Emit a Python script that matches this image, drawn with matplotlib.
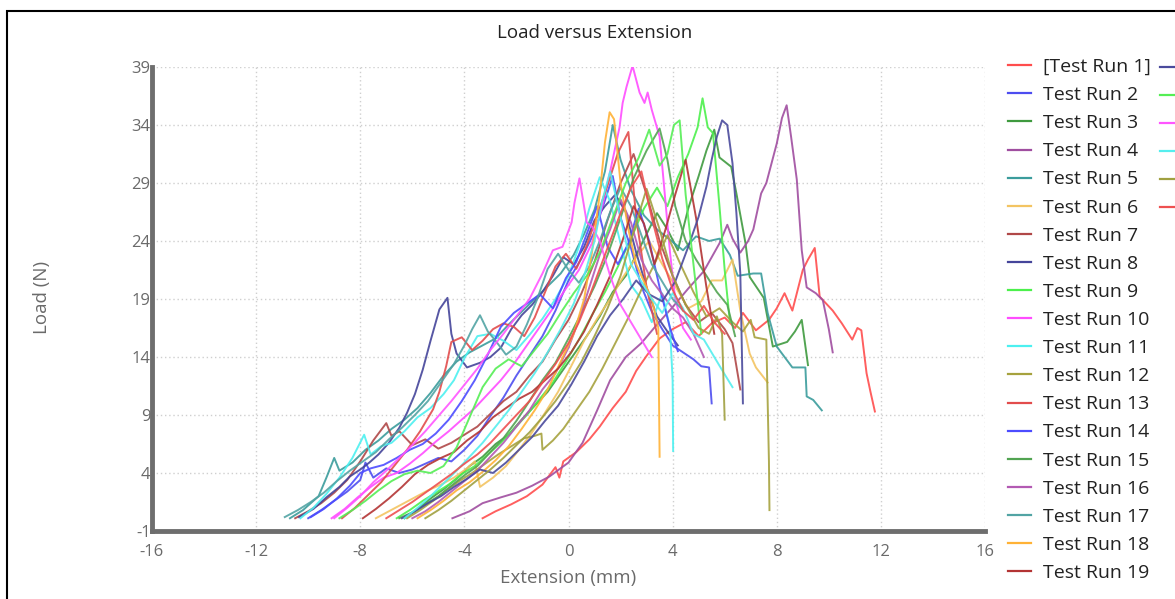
import matplotlib
matplotlib.use("Agg")
import matplotlib.pyplot as plt
from matplotlib.lines import Line2D
from matplotlib.patches import Rectangle

plt.rcParams['font.family'] = ['Open Sans', 'DejaVu Sans']
plt.rcParams['axes.unicode_minus'] = False

# ---------------- data ----------------
run01_x = [-3.3, -2.8, -2.2, -1.6, -1.0, -0.5, -0.35, -0.2, 0.3, 0.8, 1.2, 1.7, 2.2, 2.6, 3.0, 3.5, 4.0, 4.5, 5.0, 5.5, 6.0, 6.4, 6.7, 7.2, 7.7, 8.0, 8.3, 8.6, 9.0, 9.2, 9.46, 9.65, 10.15, 10.5, 10.9, 11.1, 11.25, 11.45, 11.6, 11.77]
run01_y = [0.1, 0.7, 1.3, 2.0, 3.0, 4.5, 3.6, 5.0, 5.8, 6.9, 8.0, 9.6, 11.0, 12.8, 14.1, 15.6, 16.4, 17.0, 15.8, 16.9, 17.4, 16.5, 17.8, 16.3, 17.2, 18.2, 19.5, 18.0, 21.5, 22.4, 23.4, 19.2, 18.0, 16.9, 15.5, 16.5, 16.3, 12.6, 11.0, 9.3]

run02_x = [-10.0, -9.5, -9.0, -8.5, -8.0, -7.8, -7.5, -7.0, -6.5, -6.0, -5.5, -5.0, -4.5, -4.0, -3.5, -3.0, -2.5, -2.0, -1.5, -1.0, -0.5, 0.0, 0.5, 1.0, 1.4, 1.7, 2.0, 2.4, 2.8, 3.2, 3.6, 4.0, 4.4, 4.8, 5.1, 5.4, 5.5]
run02_y = [0.1, 0.8, 1.6, 2.4, 3.4, 4.9, 3.6, 4.4, 4.0, 4.3, 4.8, 5.3, 5.0, 6.0, 7.2, 8.9, 10.5, 12.4, 14.1, 15.8, 18.0, 20.6, 22.5, 24.8, 27.5, 29.6, 26.0, 23.4, 20.1, 17.9, 16.4, 15.0, 14.4, 13.8, 13.2, 13.1, 10.0]

run03_x = [-6.3, -5.8, -5.3, -4.8, -4.3, -3.8, -3.3, -2.8, -2.3, -1.8, -1.3, -0.8, -0.3, 0.2, 0.7, 1.2, 1.7, 2.2, 2.6, 3.0, 3.4, 3.8, 4.2, 4.6, 5.0, 5.3, 5.6, 5.8, 6.25, 6.45, 6.8, 6.96, 7.5, 7.85, 8.4, 8.7, 8.96, 9.2]
run03_y = [0.1, 0.9, 1.8, 2.6, 3.5, 4.6, 5.4, 6.5, 7.3, 8.6, 9.8, 11.0, 12.6, 14.2, 15.8, 17.5, 19.6, 21.0, 22.8, 24.6, 26.4, 25.0, 23.2, 26.8, 29.6, 31.8, 33.6, 31.2, 30.4, 28.1, 23.8, 20.9, 19.1, 14.9, 15.3, 16.2, 17.2, 13.3]

run04_x = [-4.46, -3.8, -3.3, -2.6, -2.0, -1.4, -0.73, 0.0, 0.54, 1.1, 1.6, 2.2, 2.8, 3.4, 4.0, 4.6, 5.2, 5.5, 5.8, 6.1, 6.3, 6.6, 6.9, 7.1, 7.4, 7.6, 8.0, 8.2, 8.38, 8.55, 8.77, 8.96, 9.15, 9.5, 9.77, 10.0, 10.15]
run04_y = [0.1, 0.7, 1.4, 1.9, 2.3, 2.9, 3.7, 4.9, 6.6, 9.4, 12.0, 14.0, 15.2, 16.8, 18.3, 19.9, 21.4, 22.6, 23.8, 25.4, 24.2, 23.0, 24.0, 25.0, 28.1, 29.0, 32.4, 34.6, 35.7, 33.0, 29.3, 23.2, 20.0, 19.5, 18.9, 16.4, 14.4]

run05_x = [-10.7, -10.2, -9.6, -9.3, -9.0, -8.8, -8.3, -7.8, -7.3, -6.8, -6.3, -5.8, -5.3, -4.8, -4.3, -3.8, -3.3, -2.8, -2.3, -1.8, -1.3, -0.8, -0.3, 0.2, 0.6, 1.0, 1.4, 1.7, 2.0, 2.4, 2.9, 3.4, 3.9, 4.4, 4.9, 5.4, 5.8, 6.2, 6.5, 7.1, 7.4, 7.65, 8.0, 8.6, 9.1, 9.15, 9.4, 9.73]
run05_y = [0.1, 0.8, 2.0, 3.6, 5.3, 4.2, 4.9, 6.0, 6.8, 7.8, 8.6, 9.6, 10.9, 12.4, 13.6, 14.4, 15.0, 15.6, 16.8, 17.9, 19.0, 20.1, 21.2, 22.8, 24.6, 26.7, 30.0, 34.0, 31.0, 28.4, 26.2, 25.0, 24.1, 23.2, 24.4, 24.0, 24.2, 22.8, 21.0, 21.2, 21.2, 17.8, 14.9, 13.1, 13.1, 10.6, 10.3, 9.4]

run06_x = [-7.4, -6.9, -6.4, -5.9, -5.4, -4.9, -4.4, -3.9, -3.6, -3.4, -2.9, -2.4, -1.9, -1.4, -0.9, -0.4, 0.1, 0.6, 1.1, 1.6, 2.1, 2.6, 3.1, 3.6, 4.1, 4.6, 5.1, 5.5, 5.9, 6.3, 6.6, 6.96, 7.2, 7.65]
run06_y = [0.1, 0.7, 1.3, 1.9, 2.5, 3.0, 3.6, 4.4, 5.0, 2.8, 3.6, 4.6, 6.0, 7.5, 9.2, 11.0, 13.2, 15.4, 17.3, 19.0, 20.9, 22.6, 24.0, 22.0, 20.1, 18.2, 18.8, 20.6, 20.6, 22.4, 18.0, 14.3, 13.1, 11.8]

run07_x = [-10.5, -10.0, -9.5, -9.0, -8.5, -8.0, -7.5, -7.0, -6.8, -6.5, -6.0, -5.5, -5.0, -4.5, -4.0, -3.5, -3.0, -2.5, -2.0, -1.5, -1.0, -0.5, 0.0, 0.5, 1.0, 1.5, 2.0, 2.5, 3.0, 3.5, 4.0, 4.5, 5.0, 5.5, 6.0, 6.3, 6.6]
run07_y = [0.1, 0.7, 1.4, 2.3, 3.4, 5.0, 6.8, 8.3, 7.2, 7.6, 6.4, 6.9, 6.1, 6.6, 7.3, 8.0, 9.1, 10.2, 11.0, 12.4, 13.6, 15.5, 17.2, 19.5, 22.2, 25.8, 29.0, 31.5, 28.0, 24.0, 21.0, 18.5, 17.0, 17.8, 16.4, 15.2, 11.2]

run08_x = [-10.35, -9.8, -9.3, -8.8, -8.4, -8.0, -7.65, -7.3, -6.9, -6.5, -6.2, -5.9, -5.6, -5.3, -4.96, -4.65, -4.5, -4.3, -3.9, -3.4, -3.0, -2.6, -2.2, -1.8, -1.4, -1.0, -0.6, -0.2, 0.2, 0.6, 1.0, 1.4, 1.8, 2.2, 2.6, 3.0, 3.4, 3.8, 4.2]
run08_y = [0.2, 0.9, 1.9, 2.8, 3.7, 4.3, 4.9, 5.6, 6.6, 7.9, 9.2, 10.8, 12.9, 15.4, 18.1, 19.1, 16.0, 14.3, 13.1, 13.5, 14.0, 14.8, 16.4, 17.6, 18.5, 19.6, 21.0, 22.6, 22.0, 23.5, 25.8, 27.0, 28.0, 26.5, 23.0, 20.0, 17.5, 16.2, 15.0]

run09_x = [-6.6, -6.1, -5.6, -5.1, -4.6, -4.1, -3.6, -3.1, -2.6, -2.1, -1.6, -1.1, -0.6, -0.1, 0.4, 0.9, 1.4, 1.9, 2.4, 2.9, 3.4, 3.8, 4.2, 4.6, 4.96, 5.15, 5.35, 5.55, 5.8, 6.0, 6.2]
run09_y = [0.1, 0.8, 1.6, 2.3, 3.0, 3.9, 4.6, 5.6, 6.6, 7.8, 9.0, 10.4, 11.8, 13.6, 15.5, 17.6, 19.6, 21.8, 24.2, 26.8, 28.6, 27.0, 29.5, 31.5, 33.8, 36.3, 33.8, 33.3, 27.0, 21.5, 17.0]

run10_x = [-9.1, -8.6, -8.1, -7.6, -7.1, -6.6, -6.1, -5.6, -5.1, -4.6, -4.1, -3.6, -3.1, -2.6, -2.1, -1.6, -1.1, -0.6, -0.1, 0.4, 0.9, 1.3, 1.6, 1.96, 2.08, 2.23, 2.46, 2.73, 2.92, 3.04, 3.2, 3.5, 3.7, 3.9, 4.1, 4.4, 4.7]
run10_y = [0.1, 0.9, 1.9, 2.8, 3.6, 4.0, 4.8, 5.7, 6.7, 7.6, 8.6, 9.6, 10.8, 12.0, 13.4, 15.0, 16.6, 18.2, 19.9, 21.5, 23.8, 27.0, 30.0, 33.8, 35.9, 37.3, 39.1, 36.8, 35.9, 36.8, 35.3, 33.0, 28.0, 23.0, 19.0, 16.5, 15.5]

run11_x = [-10.3, -9.8, -9.3, -8.8, -8.3, -7.85, -7.6, -7.2, -6.8, -6.3, -5.8, -5.3, -4.8, -4.4, -4.0, -3.5, -3.0, -2.5, -2.0, -1.5, -1.0, -0.5, 0.0, 0.4, 0.8, 1.2, 1.6, 2.0, 2.4, 2.8, 3.2, 3.6, 3.9, 4.0, 4.02]
run11_y = [0.1, 1.0, 2.2, 3.6, 5.3, 7.3, 5.6, 6.3, 6.6, 7.6, 8.8, 9.6, 10.8, 12.0, 13.9, 15.8, 16.0, 15.4, 14.6, 15.9, 17.3, 19.0, 21.0, 23.5, 26.8, 29.5, 27.4, 23.8, 20.2, 19.0, 17.0, 19.5, 16.5, 12.0, 5.9]

run12_x = [-6.2, -5.7, -5.2, -4.7, -4.2, -3.7, -3.2, -2.7, -2.2, -1.7, -1.3, -1.04, -1.0, -0.6, -0.2, 0.3, 0.8, 1.3, 1.8, 2.3, 2.8, 3.3, 3.8, 4.3, 4.8, 5.3, 5.8, 6.3, 6.7, 7.0, 7.15, 7.6, 7.7, 7.72]
run12_y = [0.1, 0.8, 1.6, 2.5, 3.3, 4.0, 4.8, 5.6, 6.3, 7.0, 7.2, 7.4, 6.0, 6.8, 7.8, 9.4, 11.0, 13.0, 15.2, 17.4, 19.8, 22.0, 24.5, 22.0, 19.6, 17.5, 18.2, 17.0, 16.2, 17.2, 15.7, 15.5, 5.0, 0.8]

run13_x = [-8.7, -8.2, -7.7, -7.2, -6.7, -6.2, -5.7, -5.2, -4.96, -4.7, -4.5, -4.1, -3.7, -3.3, -2.9, -2.5, -2.1, -1.7, -1.3, -0.9, -0.5, -0.1, 0.3, 0.7, 1.1, 1.5, 1.9, 2.3, 2.6, 3.0, 3.4]
run13_y = [0.1, 1.0, 2.1, 3.2, 4.6, 6.0, 7.6, 9.5, 11.0, 13.2, 15.3, 15.7, 14.6, 15.4, 16.4, 16.9, 16.6, 15.8, 17.4, 19.6, 21.8, 22.9, 21.6, 23.6, 26.2, 28.8, 31.6, 33.4, 26.0, 20.0, 16.0]

run14_x = [-9.9, -9.4, -8.9, -8.4, -8.0, -7.6, -7.1, -6.6, -6.1, -5.6, -5.1, -4.6, -4.1, -3.6, -3.1, -2.6, -2.1, -1.6, -1.1, -0.6, -0.1, 0.3, 0.7, 1.1, 1.5, 1.9, 2.3, 2.7, 3.1, 3.5, 3.9, 4.2]
run14_y = [0.2, 0.9, 1.8, 2.9, 4.0, 4.4, 4.7, 5.3, 6.0, 6.5, 7.4, 8.6, 10.2, 12.0, 14.2, 16.6, 17.8, 18.6, 19.4, 18.2, 20.8, 22.2, 24.6, 27.0, 23.5, 22.0, 23.8, 26.8, 24.0, 20.0, 16.5, 14.5]

run15_x = [-6.5, -6.0, -5.5, -5.0, -4.5, -4.0, -3.5, -3.0, -2.5, -2.0, -1.5, -1.0, -0.5, 0.0, 0.5, 1.0, 1.5, 2.0, 2.5, 3.0, 3.5, 3.8, 4.1, 4.5, 4.9, 5.3, 5.7, 6.1, 6.4]
run15_y = [0.1, 0.6, 1.3, 2.0, 2.9, 3.8, 4.6, 5.8, 7.0, 8.5, 10.2, 12.0, 13.5, 15.6, 17.8, 20.1, 22.8, 26.0, 29.4, 31.8, 33.7, 31.0, 27.0, 24.0, 22.4, 21.0, 19.6, 18.5, 15.8]

run16_x = [-6.0, -5.5, -5.0, -4.5, -4.0, -3.5, -3.0, -2.5, -2.0, -1.5, -1.0, -0.5, 0.0, 0.4, 0.8, 1.2, 1.6, 2.0, 2.4, 2.8, 3.2, 3.6, 4.0, 4.4, 4.8, 5.2]
run16_y = [0.1, 0.7, 1.5, 2.4, 3.3, 4.2, 5.4, 6.6, 8.0, 9.4, 11.2, 12.6, 14.8, 17.2, 20.0, 22.8, 25.0, 27.6, 25.6, 22.4, 20.6, 19.4, 18.2, 17.4, 16.0, 14.0]

run17_x = [-10.9, -10.4, -9.9, -9.4, -8.9, -8.4, -7.9, -7.4, -6.9, -6.4, -5.9, -5.4, -4.9, -4.4, -4.0, -3.7, -3.4, -3.1, -2.8, -2.4, -2.0, -1.6, -1.2, -0.8, -0.4, 0.0, 0.4, 0.8, 1.2, 1.6, 2.0, 2.4, 2.8, 3.2, 3.6, 4.0, 4.4]
run17_y = [0.2, 0.8, 1.5, 2.3, 3.3, 4.2, 5.0, 5.8, 6.9, 7.9, 9.0, 10.2, 11.8, 13.4, 15.0, 16.4, 17.6, 16.2, 15.4, 14.2, 14.9, 16.8, 19.0, 21.6, 22.9, 21.5, 20.4, 21.8, 24.0, 26.5, 28.6, 27.0, 24.5, 22.0, 20.5, 19.0, 18.0]

run18_x = [-5.8, -5.3, -4.8, -4.3, -3.8, -3.3, -2.8, -2.3, -1.8, -1.3, -0.8, -0.3, 0.2, 0.6, 0.9, 1.2, 1.4, 1.58, 1.75, 2.0, 2.3, 2.6, 2.9, 3.2, 3.45, 3.5]
run18_y = [0.1, 0.8, 1.6, 2.5, 3.2, 4.1, 5.1, 6.3, 7.8, 9.4, 11.2, 13.6, 16.0, 19.0, 23.0, 28.0, 32.5, 35.1, 34.5, 29.0, 25.0, 22.0, 20.5, 19.0, 16.5, 5.4]

run19_x = [-7.9, -7.4, -6.9, -6.4, -5.9, -5.4, -4.9, -4.4, -3.9, -3.4, -2.9, -2.4, -1.9, -1.4, -0.9, -0.4, 0.1, 0.6, 1.1, 1.6, 2.1, 2.5, 2.9, 3.3, 3.7, 4.1, 4.5, 4.9, 5.3, 5.6]
run19_y = [0.1, 0.9, 1.8, 2.8, 3.9, 4.7, 5.3, 5.8, 6.8, 7.6, 8.8, 9.6, 10.4, 11.0, 12.0, 13.0, 14.4, 16.2, 18.5, 21.0, 24.2, 27.0, 25.5, 22.0, 24.8, 28.0, 31.0, 26.0, 20.0, 16.0]

run20_x = [-6.4, -5.9, -5.4, -4.9, -4.4, -3.9, -3.4, -2.9, -2.4, -1.9, -1.4, -0.9, -0.4, 0.1, 0.6, 1.1, 1.6, 2.1, 2.6, 3.1, 3.6, 4.1, 4.6, 5.0, 5.3, 5.5, 5.7, 5.9, 6.1, 6.3, 6.45, 6.6, 6.65, 6.7]
run20_y = [0.1, 0.7, 1.4, 2.0, 2.8, 3.5, 4.3, 4.0, 4.9, 6.0, 7.1, 8.5, 9.8, 11.6, 13.6, 15.8, 17.6, 19.0, 20.6, 19.4, 18.8, 20.5, 23.5, 26.1, 28.7, 31.0, 33.0, 34.4, 34.0, 30.7, 26.4, 21.2, 15.7, 10.0]

run21_x = [-8.8, -8.3, -7.8, -7.3, -6.8, -6.3, -5.8, -5.3, -4.8, -4.3, -3.8, -3.3, -2.8, -2.3, -1.8, -1.3, -0.8, -0.3, 0.2, 0.7, 1.2, 1.7, 2.2, 2.7, 3.1, 3.5, 3.8, 4.05, 4.27, 4.5, 4.8, 5.1]
run21_y = [0.1, 0.8, 1.6, 2.5, 3.3, 3.9, 4.2, 4.0, 4.6, 6.2, 8.8, 11.4, 13.0, 13.8, 13.2, 14.6, 16.0, 17.8, 19.5, 21.0, 23.0, 26.0, 29.0, 31.2, 33.6, 30.5, 31.5, 34.0, 34.4, 28.0, 22.0, 16.0]

run22_x = [-9.0, -8.5, -8.0, -7.5, -7.0, -6.5, -6.0, -5.5, -5.0, -4.5, -4.0, -3.5, -3.0, -2.5, -2.0, -1.5, -1.0, -0.6, -0.23, 0.12, 0.23, 0.42, 0.7, 0.92, 1.2, 1.6, 2.0, 2.4, 2.8, 3.2]
run22_y = [0.1, 1.0, 2.0, 3.2, 4.2, 5.3, 6.4, 7.6, 8.9, 10.2, 11.6, 13.0, 14.6, 16.0, 17.5, 19.0, 21.2, 23.2, 23.5, 25.6, 27.3, 29.4, 25.6, 25.2, 24.0, 21.0, 18.5, 17.0, 15.5, 14.0]

run23_x = [-6.3, -5.8, -5.3, -4.8, -4.3, -3.8, -3.3, -2.8, -2.3, -1.8, -1.3, -0.8, -0.3, 0.2, 0.6, 1.0, 1.3, 1.6, 2.0, 2.4, 2.8, 3.2, 3.6, 4.0, 4.4, 4.8, 5.2, 5.6, 6.0, 6.3]
run23_y = [0.1, 1.0, 2.0, 3.1, 4.2, 5.4, 6.6, 8.0, 9.4, 11.0, 12.6, 14.4, 16.4, 18.6, 21.0, 24.0, 27.5, 30.0, 26.0, 22.0, 20.5, 19.0, 17.8, 19.5, 18.2, 16.0, 15.5, 14.0, 12.5, 11.4]

run24_x = [-5.5, -5.0, -4.5, -4.0, -3.5, -3.0, -2.5, -2.0, -1.5, -1.0, -0.5, 0.0, 0.5, 1.0, 1.5, 2.0, 2.5, 3.0, 3.5, 4.0, 4.5, 5.0, 5.4, 5.7, 5.9, 6.0]
run24_y = [0.1, 0.8, 1.6, 2.5, 3.4, 4.3, 5.3, 6.4, 7.5, 8.8, 10.2, 11.8, 13.6, 15.8, 18.2, 21.0, 24.8, 28.5, 25.0, 21.0, 18.5, 16.5, 16.0, 17.5, 16.0, 8.6]

run25_x = [-7.0, -6.5, -6.0, -5.5, -5.0, -4.5, -4.0, -3.5, -3.0, -2.5, -2.0, -1.5, -1.0, -0.5, 0.0, 0.4, 0.8, 1.2, 1.6, 2.0, 2.4, 2.8, 3.2, 3.6, 4.0, 4.4, 4.8, 5.2, 5.6, 6.0]
run25_y = [0.1, 0.8, 1.5, 2.3, 3.1, 3.9, 4.8, 5.6, 6.6, 7.8, 9.0, 10.2, 11.8, 13.4, 15.2, 17.0, 19.2, 21.6, 24.0, 26.4, 28.6, 30.0, 26.0, 22.5, 19.8, 18.0, 17.2, 18.4, 17.0, 16.0]

run_labels = ["[Test Run 1]"] + ["Test Run %d" % i for i in range(2, 26)]
run_colors = ["#ff4d4d", "#4d4df0", "#3f9a3f", "#a04ea0", "#3b9c9c", "#f3c462",
              "#b04848", "#45459a", "#4cf04c", "#ff4cff", "#4cf0f0", "#a6a23e",
              "#e24c4c", "#4c4cff", "#52a452", "#b35ab3", "#52a4a4", "#ffb236",
              "#b33434", "#4a4a9c", "#55ee55", "#ff55ff", "#55eeee", "#a0a040",
              "#ee5050"]

x_ticks = [-16, -12, -8, -4, 0, 4, 8, 12, 16]
y_ticks = [-1, 4, 9, 14, 19, 24, 29, 34, 39]

runs_x = [run01_x, run02_x, run03_x, run04_x, run05_x, run06_x, run07_x, run08_x,
          run09_x, run10_x, run11_x, run12_x, run13_x, run14_x, run15_x, run16_x,
          run17_x, run18_x, run19_x, run20_x, run21_x, run22_x, run23_x, run24_x, run25_x]
runs_y = [run01_y, run02_y, run03_y, run04_y, run05_y, run06_y, run07_y, run08_y,
          run09_y, run10_y, run11_y, run12_y, run13_y, run14_y, run15_y, run16_y,
          run17_y, run18_y, run19_y, run20_y, run21_y, run22_y, run23_y, run24_y, run25_y]

# ---------------- figure ----------------
W, H = 1175, 599
fig = plt.figure(figsize=(W / 100, H / 100), dpi=100)
ax = fig.add_axes([152 / W, (H - 531) / H, (985 - 152) / W, (531 - 67) / H])

for xs, ys, c in zip(runs_x, runs_y, run_colors):
    ax.plot(xs, ys, color=c, lw=1.4, alpha=0.9)

ax.set_xlim(-16, 16)
ax.set_ylim(-1, 39)
ax.set_xticks(x_ticks)
ax.set_yticks(y_ticks)
ax.grid(True, linestyle=(0, (1, 2)), color='#cfcfcf', lw=1.0)
ax.set_axisbelow(True)
for s in ['top', 'right']:
    ax.spines[s].set_visible(False)
for s in ['left', 'bottom']:
    ax.spines[s].set_color('#6e6e6e')
    ax.spines[s].set_linewidth(3.5)
ax.tick_params(axis='both', length=0, labelsize=12, labelcolor='#6a6a6a')
ax.tick_params(axis='y', pad=1)
ax.tick_params(axis='x', pad=9)

ax.set_xlabel("Extension (mm)", fontsize=13.5, color='#6a6a6a', labelpad=7)
fig.text(42 / W, 1 - 297 / H, "Load (N)", rotation=90, ha='center', va='center',
         fontsize=13.5, color='#6a6a6a')
fig.text(595 / W, 1 - 33 / H, "Load versus Extension", ha='center', va='center',
         fontsize=13.5, color='#222222')

# legend (first column; the second column is cut off at the right edge)
h1 = [Line2D([], [], color=c, lw=1.6) for c in run_colors[:19]]
leg1 = fig.legend(h1, run_labels[:19], loc='upper left',
                  bbox_to_anchor=(1008 / W, 1 - 58 / H), frameon=False,
                  fontsize=14, handlelength=1.2, handletextpad=0.6,
                  labelspacing=0.52, borderaxespad=0, borderpad=0)
for t in leg1.get_texts():
    t.set_color('#222222')

# handles of the second legend column (their labels fall outside the picture)
row_step = 28
for i, c in enumerate(run_colors[19:]):
    yy = 1 - (67 + i * row_step) / H
    fig.add_artist(Line2D([1160 / W, 1184 / W], [yy, yy], transform=fig.transFigure,
                          color=c, lw=1.6, clip_on=False))

# outer frame (cut off at right and bottom as in the reference)
fig.add_artist(Rectangle((7 / W, -0.1), 1.2, 1 - 11 / H + 0.1, transform=fig.transFigure,
                         fill=False, edgecolor='black', lw=1.5, clip_on=False))

fig.savefig("out.png", dpi=100)
